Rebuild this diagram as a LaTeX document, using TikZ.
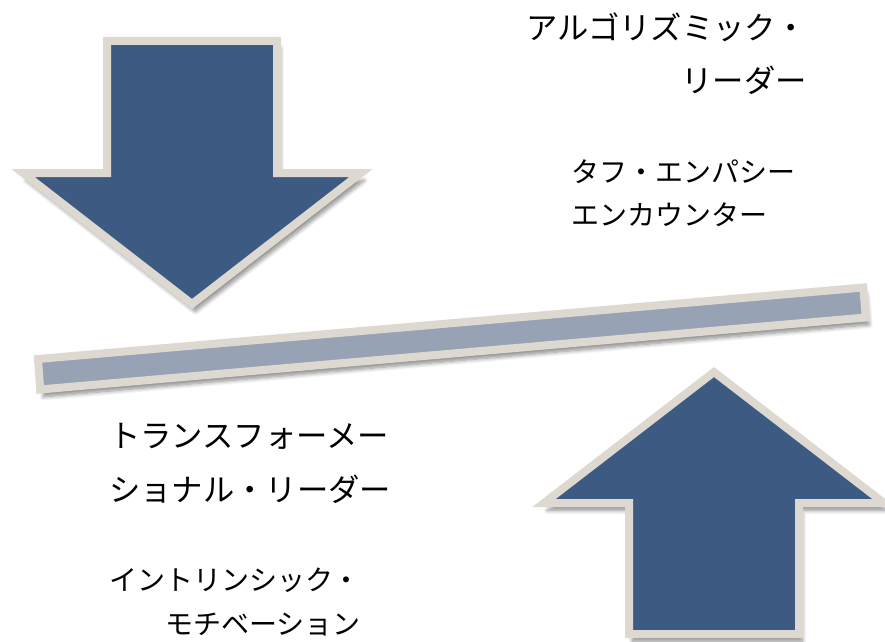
\documentclass[tikz,border=0pt]{standalone}
\usepackage{fontspec}
\usepackage{tikz}
\usepackage{xcolor}
\usetikzlibrary{
    shadows,
    shadows.blur,
    positioning
}
\newfontfamily\jpfont{Noto Sans CJK JP}
\definecolor{arwblue}{HTML}{3D5A82}
\definecolor{rimbeige}{HTML}{DED9D0}
\definecolor{barblue}{HTML}{97A3B5}
\tikzset{blarw/.style={draw=rimbeige, fill=arwblue, line width=6pt, miter limit=10,
                       blur shadow={shadow xshift=2.5pt, shadow yshift=-5.5pt, shadow blur radius=3pt, shadow blur steps=8, shadow opacity=45}},
         tbar/.style={draw=rimbeige, fill=barblue, line width=6pt,
                       blur shadow={shadow xshift=2.5pt, shadow yshift=-5.5pt, shadow blur radius=3pt, shadow blur steps=8, shadow opacity=45}},
         bigtx/.style={inner sep=0pt, font=\jpfont\fontsize{23.5pt}{40pt}\selectfont},
         smltx/.style={inner sep=0pt, font=\jpfont\fontsize{21pt}{32.5pt}\selectfont}}

\begin{document}
\begin{tikzpicture}[x=0.75pt, y=-0.75pt]
    \useasboundingbox (0, 0) rectangle (885, 642);
    % down arrow
    \begin{scope}[shift={(192, 41)}]
        \draw[blarw] (-85, 0) -- (85, 0) -- (85, 132) -- (169, 132) -- (0, 263) -- (-169, 132) -- (-85, 132) -- cycle;
    \end{scope}
    % up arrow
    \begin{scope}[shift={(714, 634)}, yscale=-1]
        \draw[blarw] (-85, 0) -- (85, 0) -- (85, 131) -- (170, 131) -- (0, 262) -- (-170, 131) -- (-85, 131) -- cycle;
    \end{scope}
    % balance bar
    \draw[tbar] (38, 359) -- (863.3, 287.5) -- (865.8, 317.5) -- (40.2, 389.5) -- cycle;
    % labels
    \node[bigtx, align=right] (algo) at (666.5, 53.5) {アルゴリズミック・\\リーダー};
    \node[smltx, align=left] (tough) at (683, 193.5) {タフ・エンパシー\\エンカウンター};
    \node[bigtx, align=left] (trans) at (250, 463.5) {トランスフォーメー\\ショナル・リーダー};
    \node[smltx, align=right] (intr) at (235, 602) {イントリンシック・\\モチベーション};
\end{tikzpicture}
\end{document}
